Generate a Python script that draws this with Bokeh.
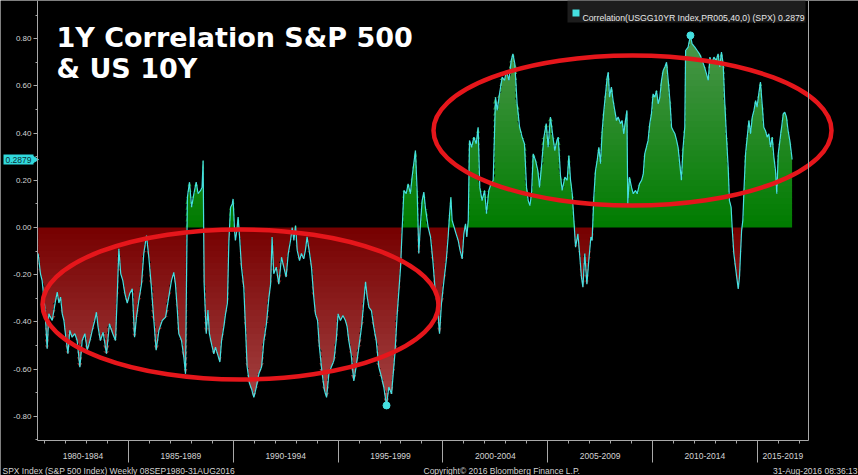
import numpy as np
from bokeh.plotting import figure
from bokeh.models import (Range1d, FixedTicker, PrintfTickFormatter, Label,
                          BoxAnnotation, LinearAxis)
from bokeh.embed import file_html
from bokeh.resources import INLINE

# ---------------- data ----------------
dates = [
    1980.69, 1980.80, 1980.88, 1981.01, 1981.12, 1981.20, 1981.36, 1981.52, 1981.60, 1981.68,
    1981.76, 1981.84, 1981.92, 1981.99, 1982.11, 1982.20, 1982.31, 1982.44, 1982.55, 1982.68,
    1982.79, 1982.92, 1983.03, 1983.16, 1983.27, 1983.39, 1983.47, 1983.55, 1983.66, 1983.79,
    1983.95, 1984.09, 1984.25, 1984.38, 1984.46, 1984.54, 1984.63, 1984.73, 1984.83, 1984.94,
    1985.06, 1985.18, 1985.29, 1985.38, 1985.49, 1985.62, 1985.73, 1985.86, 1985.97, 1986.08,
    1986.21, 1986.32, 1986.45, 1986.61, 1986.77, 1986.92,
    1987.05, 1987.16, 1987.24, 1987.32, 1987.40, 1987.53, 1987.64, 1987.72, 1987.81, 1987.91,
    1988.01, 1988.12, 1988.23, 1988.32, 1988.44, 1988.51, 1988.56, 1988.61, 1988.71, 1988.79,
    1988.86, 1988.96, 1989.07, 1989.15, 1989.26, 1989.36, 1989.44, 1989.55, 1989.63, 1989.72,
    1989.79, 1989.87, 1989.95, 1989.99, 1990.06, 1990.10, 1990.17, 1990.23, 1990.30, 1990.39,
    1990.50, 1990.58, 1990.66, 1990.77, 1990.87, 1990.98, 1991.09, 1991.22, 1991.35, 1991.46,
    1991.58, 1991.70, 1991.78, 1991.85, 1991.93, 1992.05, 1992.17, 1992.30, 1992.41, 1992.52,
    1992.62, 1992.73, 1992.81, 1992.89, 1992.97,
    1993.05, 1993.16, 1993.25, 1993.36, 1993.44, 1993.52, 1993.64, 1993.73, 1993.84, 1993.92,
    1994.02, 1994.11, 1994.24, 1994.35, 1994.45, 1994.56, 1994.68, 1994.80, 1994.91, 1995.00,
    1995.11, 1995.23, 1995.35, 1995.43, 1995.51, 1995.62, 1995.75, 1995.86, 1995.99, 1996.12,
    1996.23, 1996.31, 1996.39, 1996.47, 1996.59, 1996.70, 1996.82, 1996.94, 1997.07, 1997.18,
    1997.31, 1997.42, 1997.55, 1997.63, 1997.71, 1997.82, 1997.90, 1997.98, 1998.06, 1998.14,
    1998.25, 1998.34, 1998.45, 1998.53, 1998.61, 1998.69, 1998.77, 1998.85, 1998.93, 1999.01,
    1999.09, 1999.17, 1999.30,
    1999.41, 1999.52, 1999.62, 1999.73, 1999.84, 1999.93, 2000.05, 2000.16, 2000.25, 2000.32,
    2000.38, 2000.44, 2000.54, 2000.63, 2000.73, 2000.82, 2000.92, 2001.00, 2001.08, 2001.14,
    2001.21, 2001.27, 2001.37, 2001.48, 2001.59, 2001.68, 2001.76, 2001.87, 2001.99, 2002.08,
    2002.19, 2002.30, 2002.40, 2002.51, 2002.59, 2002.70, 2002.83, 2002.94, 2003.03, 2003.15,
    2003.26, 2003.34, 2003.43, 2003.54, 2003.66, 2003.78, 2003.89, 2003.99, 2004.07, 2004.15,
    2004.23, 2004.31, 2004.42, 2004.53, 2004.61, 2004.70, 2004.82, 2004.93, 2005.02, 2005.13,
    2005.25, 2005.34, 2005.45,
    2005.50, 2005.61, 2005.69, 2005.82, 2005.93, 2006.01, 2006.09, 2006.17, 2006.25, 2006.33,
    2006.44, 2006.52, 2006.61, 2006.68, 2006.77, 2006.87, 2006.96, 2007.06, 2007.12, 2007.20,
    2007.28, 2007.36, 2007.44, 2007.52, 2007.60, 2007.68, 2007.76, 2007.84, 2007.89, 2007.95,
    2008.04, 2008.12, 2008.20, 2008.28, 2008.36, 2008.47, 2008.55, 2008.63, 2008.71, 2008.78,
    2008.82, 2008.90, 2009.00, 2009.08, 2009.19, 2009.27, 2009.38, 2009.48, 2009.56, 2009.63,
    2009.71, 2009.79, 2009.87, 2009.95, 2010.03, 2010.11, 2010.19, 2010.27, 2010.35, 2010.43,
    2010.51, 2010.59, 2010.67, 2010.75, 2010.83, 2010.91, 2010.99, 2011.07, 2011.15, 2011.22,
    2011.30, 2011.38, 2011.46, 2011.54,
    2011.58, 2011.70, 2011.81, 2011.89, 2012.02, 2012.13, 2012.24, 2012.37, 2012.48, 2012.58,
    2012.66, 2012.74, 2012.82, 2012.93, 2013.04, 2013.13, 2013.21, 2013.29, 2013.37, 2013.45,
    2013.53, 2013.61, 2013.67, 2013.75, 2013.80, 2013.88, 2013.96, 2014.04, 2014.09, 2014.15,
    2014.20, 2014.25, 2014.31, 2014.37, 2014.44, 2014.52, 2014.60, 2014.68, 2014.76, 2014.84,
    2014.92, 2014.99, 2015.07, 2015.15, 2015.23, 2015.31, 2015.39, 2015.47, 2015.55, 2015.63,
    2015.71, 2015.79, 2015.87, 2015.93, 2016.00, 2016.08, 2016.16, 2016.24, 2016.31, 2016.39,
    2016.47, 2016.55, 2016.63, 2016.66,
]
corr = [
    -0.110, -0.196, -0.225, -0.340, -0.514, -0.366, -0.394, -0.310, -0.274, -0.320,
    -0.295, -0.366, -0.394, -0.450, -0.535, -0.436, -0.465, -0.450, -0.479, -0.592,
    -0.479, -0.450, -0.520, -0.479, -0.436, -0.394, -0.359, -0.422, -0.479, -0.444,
    -0.535, -0.408, -0.450, -0.479, -0.295, -0.090, -0.196, -0.225, -0.281, -0.320,
    -0.280, -0.260, -0.465, -0.380, -0.310, -0.240, -0.110, -0.034, -0.126, -0.240,
    -0.394, -0.520, -0.436, -0.394, -0.380, -0.295,
    -0.225, -0.190, -0.240, -0.338, -0.450, -0.479, -0.550, -0.620, 0.128, 0.192,
    0.086, 0.143, 0.192, 0.143, 0.157, 0.171, 0.284, -0.240, -0.450, -0.350,
    -0.450, -0.493, -0.535, -0.507, -0.540, -0.570, -0.479, -0.420, -0.366, -0.320,
    -0.055, 0.086, 0.100, 0.121, -0.013, -0.055, -0.013, 0.044, -0.040, -0.168,
    -0.253, -0.420, -0.590, -0.660, -0.684, -0.720, -0.680, -0.620, -0.590, -0.479,
    -0.408, -0.295, -0.240, -0.040, -0.196, -0.168, -0.240, -0.126, -0.168, -0.210,
    -0.112, -0.055, 0.000, -0.055, 0.008,
    -0.097, -0.140, -0.110, -0.133, -0.097, -0.040, -0.110, -0.168, -0.295, -0.366,
    -0.394, -0.507, -0.620, -0.690, -0.720, -0.620, -0.590, -0.564, -0.479, -0.366,
    -0.394, -0.373, -0.394, -0.420, -0.479, -0.535, -0.650, -0.590, -0.507, -0.420,
    -0.310, -0.230, -0.295, -0.338, -0.352, -0.420, -0.479, -0.590, -0.634, -0.676,
    -0.754, -0.676, -0.705, -0.620, -0.535, -0.366, -0.267, -0.168, 0.000, 0.157,
    0.143, 0.185, 0.143, 0.213, 0.270, 0.326, 0.157, -0.110, 0.016, 0.114,
    0.150, 0.080, 0.000,
    -0.040, -0.140, -0.253, -0.323, -0.450, -0.323, -0.225, -0.140, -0.040, 0.058,
    0.128, 0.030, 0.000, -0.027, -0.055, -0.097, -0.133, -0.027, 0.016, -0.040,
    0.030, 0.369, 0.340, 0.383, 0.355, 0.425, 0.170, 0.114, 0.157, 0.058,
    0.157, 0.185, 0.200, 0.552, 0.496, 0.566, 0.637, 0.623, 0.665, 0.623,
    0.708, 0.736, 0.694, 0.524, 0.425, 0.383, 0.355, 0.170, 0.114, 0.093,
    0.143, 0.312, 0.284, 0.240, 0.170, 0.256, 0.383, 0.440, 0.340, 0.468,
    0.383, 0.326, 0.372,
    0.383, 0.220, 0.157, 0.213, 0.200, 0.305, 0.200, 0.143, 0.030, -0.083,
    -0.027, -0.110, -0.210, -0.253, -0.110, -0.240, -0.140, -0.040, -0.055, 0.128,
    0.240, 0.284, 0.340, 0.270, 0.410, 0.496, 0.566, 0.637, 0.658, 0.552,
    0.595, 0.538, 0.496, 0.453, 0.468, 0.440, 0.453, 0.397, 0.453, 0.496,
    0.100, 0.213, 0.170, 0.143, 0.157, 0.143, 0.185, 0.200, 0.227, 0.312,
    0.340, 0.369, 0.440, 0.482, 0.566, 0.552, 0.580, 0.524, 0.552, 0.623,
    0.665, 0.680, 0.700, 0.623, 0.538, 0.425, 0.410, 0.397, 0.369, 0.340,
    0.270, 0.200, 0.340, 0.425,
    0.750, 0.764, 0.814, 0.778, 0.764, 0.750, 0.736, 0.708, 0.680, 0.650,
    0.623, 0.722, 0.694, 0.722, 0.708, 0.736, 0.680, 0.743, 0.694, 0.524,
    0.383, 0.256, 0.114, 0.086, 0.000, -0.110, -0.168, -0.225, -0.260, -0.210,
    -0.110, -0.014, 0.030, 0.170, 0.312, 0.383, 0.453, 0.397, 0.468, 0.496,
    0.538, 0.510, 0.566, 0.616, 0.524, 0.425, 0.410, 0.383, 0.397, 0.340,
    0.383, 0.298, 0.240, 0.143, 0.312, 0.369, 0.425, 0.482, 0.489, 0.468,
    0.410, 0.369, 0.312, 0.2879,
]
y_ticks = [-0.8, -0.6, -0.4, -0.2, 0.0, 0.2, 0.4, 0.6, 0.8]
y_minor_ticks = [-0.9, -0.7, -0.5, -0.3, -0.1, 0.1, 0.3, 0.5, 0.7, 0.9]
period_starts = [1980, 1985, 1990, 1995, 2000, 2005, 2010, 2015]
period_labels = ["1980-1984", "1985-1989", "1990-1994", "1995-1999",
                 "2000-2004", "2005-2009", "2010-2014", "2015-2019"]
year_ticks = list(range(1981, 2018))
legend_text = "Correlation(USGG10YR Index,PR005,40,0) (SPX) 0.2879"
title_lines = ["1Y Correlation S&P 500", "& US 10Y"]
footer_left = "SPX Index (S&P 500 Index)  Weekly 08SEP1980-31AUG2016"
footer_mid = "Copyright\u00a9 2016 Bloomberg Finance L.P."
footer_right = "31-Aug-2016 08:36:13"

# ---------------- geometry (the frame is the whole canvas) ----------------
W, H = 858, 475
PX_PER_YEAR = 20.96
PX_PER_UNIT = 236.0
ZERO_PY = 227.0
AX_LEFT_PX, AX_BOTTOM_PX, BORDER_PX = 37, 440, 808
X0 = 1985 - 128 / PX_PER_YEAR
X1 = X0 + W / PX_PER_YEAR
Y1 = ZERO_PY / PX_PER_UNIT
Y0 = -(H - ZERO_PY) / PX_PER_UNIT


def px2x(px):
    return X0 + px / PX_PER_YEAR


def py2y(py):
    return (ZERO_PY - py) / PX_PER_UNIT


def mix(c0, c1, t):
    t = min(max(t, 0.0), 1.0)
    return "#%02x%02x%02x" % tuple(int(round(a + (b - a) * t)) for a, b in zip(c0, c1))


X_AXIS_START = px2x(AX_LEFT_PX)
X_BORDER = px2x(BORDER_PX)
Y_AXIS_BOTTOM = py2y(AX_BOTTOM_PX)

AXIS_GRAY = "#a8a8a8"
TEXT_GRAY = "#d4d4d4"
CYAN = "#45dfe0"
TAG_CYAN = "#31d9dd"
RED0, RED1 = (118, 0, 0), (168, 72, 72)
GREEN0, GREEN1 = (0, 124, 0), (74, 150, 74)

p = figure(width=W, height=H, output_backend="svg", toolbar_location=None,
           x_range=Range1d(X0, X1), y_range=Range1d(Y0, Y1),
           x_axis_location=None, y_axis_location=None,
           min_border_left=0, min_border_right=0, min_border_top=0, min_border_bottom=0,
           background_fill_color="black", border_fill_color="black",
           outline_line_color=None)
p.grid.visible = False

# ---------------- gradient area fills ----------------
xv = np.array(dates)
yv = np.array(corr)
NB = 32
EPS = 0.003
for i in range(NB):
    hi = -0.8 * i / NB
    lo = -0.8 * (i + 1) / NB if i < NB - 1 else -1.0
    bot = np.clip(yv, lo - EPS, hi)
    p.varea(x=xv, y1=np.full_like(yv, hi), y2=bot,
            fill_color=mix(RED0, RED1, (i + 0.5) / NB), fill_alpha=1.0)
for i in range(NB):
    lo = 0.8 * i / NB
    hi = 0.8 * (i + 1) / NB if i < NB - 1 else 1.0
    top = np.clip(yv, lo, hi + EPS)
    p.varea(x=xv, y1=np.full_like(yv, lo), y2=top,
            fill_color=mix(GREEN0, GREEN1, (i + 0.5) / NB), fill_alpha=1.0)

p.line(xv, yv, line_color=CYAN, line_width=1.2)
imax, imin = int(np.argmax(yv)), int(np.argmin(yv))
p.scatter([xv[imax], xv[imin]], [yv[imax], yv[imin]], size=7,
          fill_color=CYAN, line_color=CYAN)

# ---------------- highlight ellipses ----------------
ell_x = [px2x(240), px2x(632)]
ell_y = [py2y(304), py2y(130)]
ell_w = [396 / PX_PER_YEAR, 398 / PX_PER_YEAR]
ell_h = [150 / PX_PER_UNIT, 150 / PX_PER_UNIT]
p.ellipse(x=ell_x, y=ell_y, width=ell_w, height=ell_h,
          fill_color=None, line_color="#e5161b", line_width=4.5)

# right border of the plotted area
p.segment(x0=[X_BORDER], y0=[Y_AXIS_BOTTOM], x1=[X_BORDER], y1=[Y1],
          line_color=AXIS_GRAY, line_width=1)

# ---------------- axes (drawn at fixed positions inside the canvas) ----------------
yax = LinearAxis(fixed_location=X_AXIS_START, bounds=(Y_AXIS_BOTTOM, Y1),
                 ticker=FixedTicker(ticks=y_ticks, minor_ticks=y_minor_ticks),
                 formatter=PrintfTickFormatter(format="%.2f"))
yax.axis_line_color = AXIS_GRAY
yax.major_tick_line_color = AXIS_GRAY
yax.minor_tick_line_color = AXIS_GRAY
yax.major_tick_out = 4
yax.major_tick_in = 0
yax.minor_tick_out = 2
yax.minor_tick_in = 0
yax.major_label_standoff = 2
yax.major_label_text_color = TEXT_GRAY
yax.major_label_text_font = "Liberation Sans"
yax.major_label_text_font_size = "8px"
p.add_layout(yax, "left")

# tick-mark axis: long separators every 5 years, short ticks every year
xax = LinearAxis(fixed_location=Y_AXIS_BOTTOM, bounds=(X_AXIS_START, X_BORDER),
                 ticker=FixedTicker(ticks=period_starts[1:], minor_ticks=year_ticks))
xax.axis_line_color = AXIS_GRAY
xax.major_tick_line_color = AXIS_GRAY
xax.minor_tick_line_color = AXIS_GRAY
xax.major_tick_out = 22
xax.major_tick_in = 0
xax.minor_tick_out = 3
xax.minor_tick_in = 0
xax.major_label_text_font_size = "0px"
xax.major_label_text_color = None
p.add_layout(xax, "below")

# label axis: period names centred in the visible part of each 5-year block
cx = [round((max(s, X_AXIS_START) + min(s + 5, X_BORDER)) / 2, 3) for s in period_starts]
lab_ax = LinearAxis(fixed_location=Y_AXIS_BOTTOM,
                    ticker=FixedTicker(ticks=cx, minor_ticks=[]),
                    major_label_overrides={c: t for c, t in zip(cx, period_labels)})
lab_ax.axis_line_color = None
lab_ax.major_tick_line_color = None
lab_ax.minor_tick_line_color = None
lab_ax.major_tick_out = 0
lab_ax.major_tick_in = 0
lab_ax.major_label_standoff = 12
lab_ax.major_label_text_color = TEXT_GRAY
lab_ax.major_label_text_font = "Liberation Sans"
lab_ax.major_label_text_font_size = "8.5px"
p.add_layout(lab_ax, "below")

# ---------------- title ----------------
for k, line in enumerate(title_lines):
    p.add_layout(Label(x=px2x(56), y=py2y(37 + 31 * k), text=line,
                       text_font="DejaVu Sans", text_font_style="bold",
                       text_font_size="27px", text_color="white",
                       text_baseline="alphabetic"))

# ---------------- legend ----------------
p.add_layout(BoxAnnotation(left=px2x(567), right=px2x(805), top=Y1, bottom=py2y(22),
                           fill_color="#1d1d1d", fill_alpha=1.0, line_color=None))
p.add_layout(BoxAnnotation(left=px2x(572), right=px2x(579), top=py2y(9), bottom=py2y(16),
                           fill_color=CYAN, fill_alpha=1.0, line_color=None))
p.add_layout(Label(x=px2x(582), y=py2y(17), text=legend_text, text_color="#e8e8e8",
                   text_font="Liberation Sans", text_font_size="8.7px",
                   text_baseline="alphabetic"))

# ---------------- last value tag ----------------
p.scatter([px2x(33.5)], [yv[-1]], marker="triangle", angle=-np.pi / 2, size=8,
          fill_color=TAG_CYAN, line_color=TAG_CYAN)
p.add_layout(Label(x=px2x(3), y=yv[-1], text="%.4f" % yv[-1], text_baseline="middle",
                   text_align="left", text_color="#0b3038", text_font="Liberation Sans",
                   text_font_size="8.5px", background_fill_color=TAG_CYAN,
                   background_fill_alpha=1.0, padding=2))

# ---------------- footer ----------------
for txt, px, align in [(footer_left, 2, "left"), (footer_mid, 423, "left"),
                       (footer_right, 857, "right")]:
    p.add_layout(Label(x=px2x(px), y=py2y(470), text=txt, text_align=align,
                       text_baseline="alphabetic", text_color=TEXT_GRAY,
                       text_font="Liberation Sans", text_font_size="8.5px"))

open("out.html", "w").write(file_html(p, INLINE))
